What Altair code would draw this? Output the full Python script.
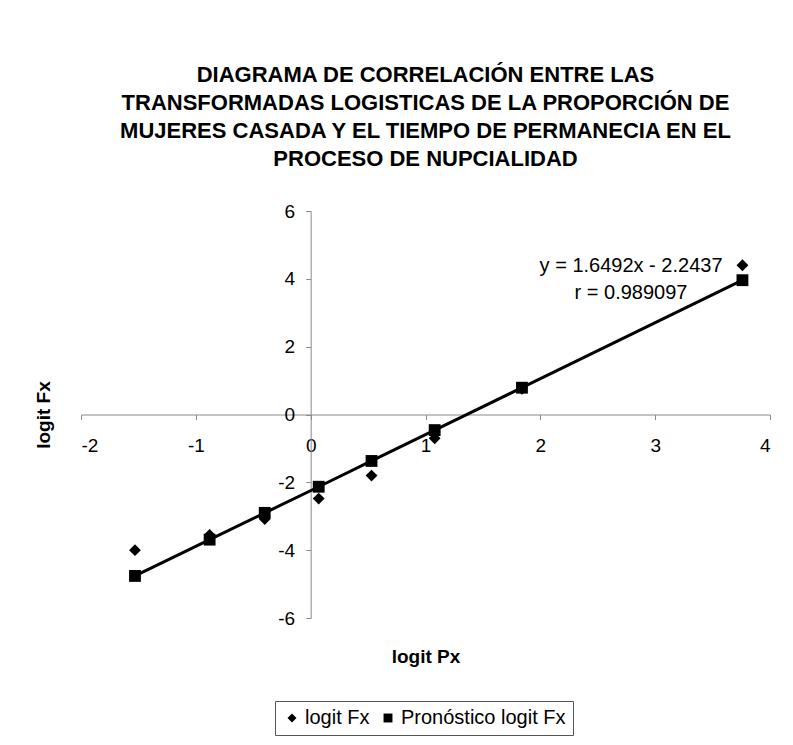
import altair as alt
import pandas as pd

# ---- data ----
logit_px = [-1.53, -0.88, -0.40, 0.07, 0.53, 1.08, 1.84, 3.76]
logit_fx = [-4.00, -3.55, -3.08, -2.48, -1.80, -0.70, 0.76, 4.40]
pronostico_fx = [-4.76, -3.69, -2.90, -2.13, -1.37, -0.46, 0.79, 3.96]
series_names = ["logit Fx", "Pronóstico logit Fx"]
series_shapes = ["diamond", "square"]
title_lines = [
    "DIAGRAMA DE CORRELACIÓN ENTRE LAS",
    "TRANSFORMADAS LOGISTICAS DE LA PROPORCIÓN DE",
    "MUJERES CASADA Y EL TIEMPO DE PERMANECIA EN EL",
    "PROCESO DE NUPCIALIDAD",
]
x_ticks = [-2, -1, 0, 1, 2, 3, 4]
y_ticks = [-6, -4, -2, 0, 2, 4, 6]
annotation_lines = ["y = 1.6492x - 2.2437", "r = 0.989097"]
annotation_at = (2.79, 4.38)

FONT = "Liberation Sans"
W, H = 689, 407
xdom = [x_ticks[0], x_ticks[-1]]
ydom = [y_ticks[0], y_ticks[-1]]

# axes crossing at zero (Excel style)
x_axis_offset = -H * (0 - ydom[0]) / (ydom[1] - ydom[0])
y_axis_offset = -W * (0 - xdom[0]) / (xdom[1] - xdom[0])

points = pd.DataFrame(
    {
        "px": logit_px * 2,
        "fx": logit_fx + pronostico_fx,
        "serie": [series_names[0]] * len(logit_px) + [series_names[1]] * len(logit_px),
    }
)
line_df = pd.DataFrame({"px": logit_px, "fx": pronostico_fx})
note_df = pd.DataFrame({"px": [annotation_at[0]], "fx": [annotation_at[1]]})

x_enc = alt.X(
    "px:Q",
    scale=alt.Scale(domain=xdom, nice=False, zero=False),
    axis=alt.Axis(
        title="logit Px",
        values=x_ticks,
        labelExpr="'' + datum.value",
        orient="bottom",
        offset=x_axis_offset,
        grid=False,
        domainColor="#8a8a8a",
        tickColor="#8a8a8a",
        tickSize=5,
        labelPadding=17,
        labelFont=FONT,
        labelFontSize=19,
        labelColor="black",
        titleFont=FONT,
        titleFontSize=19,
        titleFontWeight="bold",
        titleColor="black",
        titleY=242,
        titleBaseline="middle",
    ),
)
y_enc = alt.Y(
    "fx:Q",
    scale=alt.Scale(domain=ydom, nice=False, zero=False),
    axis=alt.Axis(
        title="logit Fx",
        values=y_ticks,
        labelExpr="'' + datum.value",
        orient="left",
        offset=y_axis_offset,
        grid=False,
        domainColor="#8a8a8a",
        tickColor="#8a8a8a",
        tickSize=5,
        labelPadding=11,
        labelFont=FONT,
        labelFontSize=19,
        labelColor="black",
        titleFont=FONT,
        titleFontSize=19,
        titleFontWeight="bold",
        titleColor="black",
        titleX=43 - (81 - y_axis_offset),
        titleY=H / 2,
        titleAngle=270,
        titleAlign="center",
        titleBaseline="middle",
    ),
)

line = alt.Chart(line_df).mark_line(color="black", strokeWidth=3).encode(x=x_enc, y=y_enc)

pts = alt.Chart(points).mark_point(filled=True, color="black", opacity=1, size=140).encode(
    x="px:Q",
    y="fx:Q",
    shape=alt.Shape(
        "serie:N",
        scale=alt.Scale(domain=series_names, range=series_shapes),
        legend=alt.Legend(
            title=None,
            orient="none",
            legendX=194,
            legendY=490,
            direction="horizontal",
            strokeColor="#555555",
            fillColor="white",
            padding=7,
            columnPadding=8,
            symbolSize=80,
            symbolFillColor="black",
            symbolStrokeColor="black",
            symbolOffset=0,
            labelFont=FONT,
            labelFontSize=20,
            labelColor="black",
            labelOffset=3,
            labelLimit=400,
        ),
    ),
)

note = alt.Chart(note_df).mark_text(
    text=annotation_lines,
    font=FONT,
    fontSize=20,
    fontWeight="normal",
    color="black",
    align="center",
    baseline="middle",
    lineHeight=27,
).encode(x="px:Q", y="fx:Q")

chart = (
    alt.layer(line, pts, note)
    .properties(
        width=W,
        height=H,
        autosize=alt.AutoSizeParams(type="none"),
        padding={"left": 73, "top": 203, "right": 15, "bottom": 119},
        title=alt.TitleParams(
            text=title_lines,
            font=FONT,
            fontSize=22,
            fontWeight="bold",
            color="black",
            anchor="middle",
            offset=31,
            lineHeight=28,
        ),
    )
    .configure(background="white")
    .configure_view(strokeWidth=0, stroke="transparent")
)

chart.save("out.html", embed_options={"renderer": "svg", "actions": False})
